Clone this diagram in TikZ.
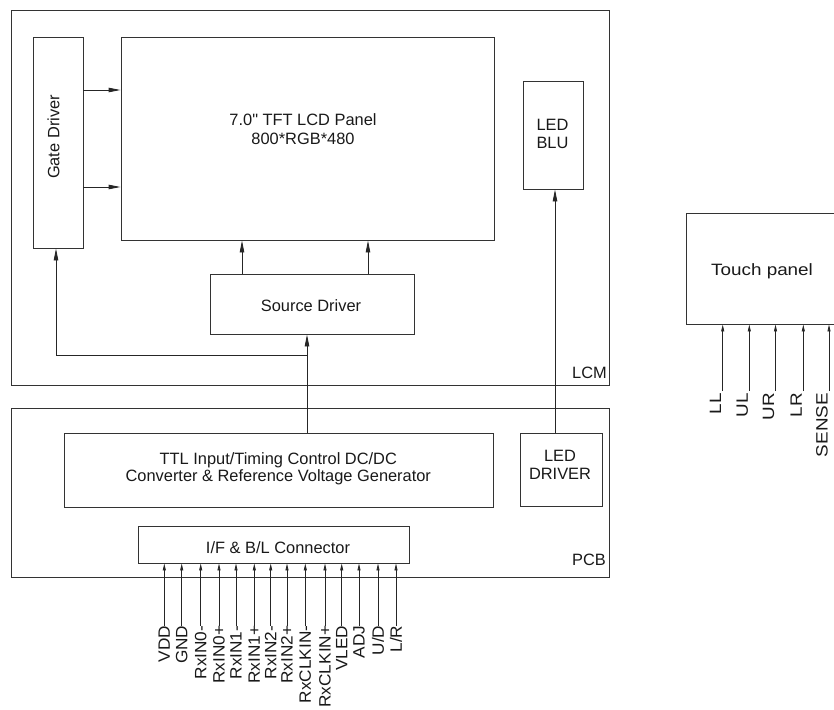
\documentclass[tikz,border=0pt]{standalone}
\usepackage{fontspec}
\setmainfont{Liberation Sans}[Ligatures=TeXOff]
\newfontfamily\stretchfont[FakeStretch=1.05]{Liberation Sans}
\newfontfamily\touchfont[FakeStretch=1.15]{Liberation Sans}
\usetikzlibrary{arrows.meta}
\begin{document}
\begin{tikzpicture}[x=1pt,y=-1pt,
  every node/.append style={font=\fontsize{16.4}{19}\selectfont, text=black!90},
  box/.style={draw=black!80, line width=0.9pt, inner sep=0pt},
  txt/.style={inner sep=0pt, align=center},
  arr/.style={draw=black!85, line width=0.9pt, -{Triangle[length=12pt,width=4.5pt]}},
  parr/.style={draw=black!85, line width=0.8pt, -{Triangle[length=7pt,width=3pt]}},
  pinlbl/.style={rotate=90, anchor=east, inner sep=0pt, font=\stretchfont\fontsize{16.4}{19}\selectfont},
  tpinlbl/.style={rotate=90, anchor=base east, inner sep=0pt, font=\touchfont\fontsize{16.4}{19}\selectfont}
]
\useasboundingbox (0,0) rectangle (834,709);
\clip (0,0) rectangle (834,709);

% frames
\node[box, minimum width=598, minimum height=375] (lcm) at (310,197.5) {};
\node[box, minimum width=598, minimum height=169] (pcb) at (310,492.5) {};

% blocks
\node[box, minimum width=50,  minimum height=211] (gate) at (58,142.5) {};
\node[box, minimum width=373, minimum height=203] (lcd)  at (307.5,138.5) {};
\node[box, minimum width=60,  minimum height=108] (blu)  at (553,135) {};
\node[box, minimum width=204, minimum height=60]  (src)  at (312,304) {};
\node[box, minimum width=429, minimum height=74]  (ttl)  at (278.5,470) {};
\node[box, minimum width=82,  minimum height=73]  (ledd) at (561,469.5) {};
\node[box, minimum width=271, minimum height=37]  (conn) at (273.5,544.5) {};
\node[box, minimum width=214, minimum height=111] (touch) at (793,268.5) {};

% texts
\node[txt, font=\fontsize{16.4}{19}\selectfont] (lcdt) at (303,129) {7.0" TFT LCD Panel\\800*RGB*480};
\node[txt, rotate=90] (gatet) at (53.5,137) {Gate Driver};
\node[txt, font=\fontsize{16.4}{18.5}\selectfont] (blut) at (552.5,133.7) {LED\\BLU};
\node[txt] (srct) at (311,306) {Source Driver};
\node[txt, font=\fontsize{16.4}{16.5}\selectfont] (ttlt) at (278.3,469) {TTL Input/Timing Control DC/DC\\Converter \& Reference Voltage Generator};
\node[txt, font=\fontsize{16.4}{18.5}\selectfont] (leddt) at (560,465) {LED\\DRIVER};
\node[txt] (connt) at (278,548) {I/F \& B/L Connector};
\node[txt, anchor=base east] (lcmt) at (607,378) {LCM};
\node[txt, anchor=base east] (pcbt) at (606,565) {PCB};
\node[txt, anchor=west, font=\touchfont\fontsize{16.4}{19}\selectfont] (toucht) at (711,271) {Touch panel};

% connectors
\draw[arr] (gate.east |- 0,90) -- (lcd.west |- 0,90);
\draw[arr] (gate.east |- 0,187) -- (lcd.west |- 0,187);
\draw[arr] (src.north -| 242,0) -- (lcd.south -| 242,0);
\draw[arr] (src.north -| 368,0) -- (lcd.south -| 368,0);
\coordinate (jn) at (307,355);
\draw[arr] (ttl.north -| jn) -- (src.south -| jn);
\draw[arr] (jn) -| (gate.south -| 56,0);
\draw[arr] (ledd.north -| 555,0) -- (blu.south -| 555,0);

% interface pins
\foreach \x/\t [count=\i] in {164.3/VDD, 181.7/GND, 200.7/RxIN0-, 219/RxIN0+, 236/RxIN1-, 254.3/RxIN1+, 270.7/RxIN2-, 287/RxIN2+, 305.3/RxCLKIN-, 325/RxCLKIN+, 341.7/VLED, 359/ADJ, 378/{U/D}, 396/{L/R}}{
  \node[pinlbl] (p\i) at (\x,625.5) {\t};
  \draw[parr] (p\i.east) -- (conn.south -| p\i.east);
}

% touch pins
\foreach \x/\t [count=\i] in {722.7/LL, 749.3/UL, 775.5/UR, 803.3/LR, 829/SENSE}{
  \coordinate (tp\i) at (\x,391);
  \node[tpinlbl] (tl\i) at ([shift={(-1.5,2)}]tp\i) {\t};
  \draw[parr] (tp\i) -- (touch.south -| tp\i);
}
\end{tikzpicture}
\end{document}
